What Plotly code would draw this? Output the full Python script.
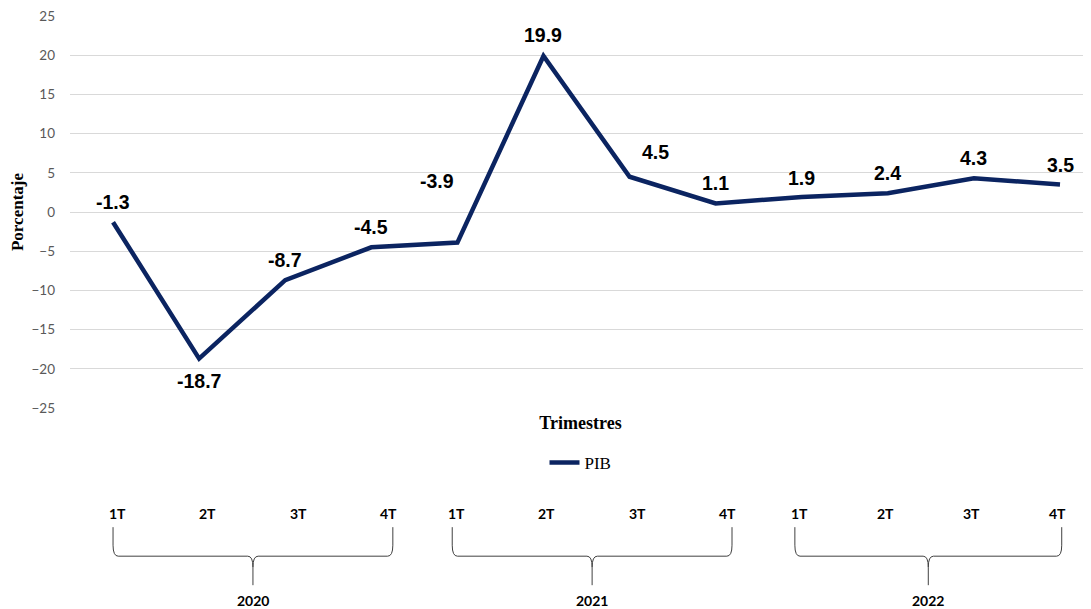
import plotly.graph_objects as go

quarters = ["1T", "2T", "3T", "4T"]
years = ["2020", "2021", "2022"]
categories = [f"{q} {y}" for y in years for q in quarters]
pib = [-1.3, -18.7, -8.7, -4.5, -3.9, 19.9, 4.5, 1.1, 1.9, 2.4, 4.3, 3.5]
y_ticks = [25, 20, 15, 10, 5, 0, -5, -10, -15, -20, -25]

# label offsets (px) relative to each point
label_dx = [0, 0, 0, 0, -20, 0, 26, 0, 0, 0, 0, 0]
label_dy = [20, -22, 20, 20, 62, 21, 25, 20, 19, 20, 20, 20]

# brace spans in x-axis units (category index)
brace_spans = [(0.0, 3.25), (3.94, 7.19), (7.92, 11.02)]

LINE = "#0b2461"
xs = list(range(len(categories)))

fig = go.Figure()
fig.add_trace(go.Scatter(
    x=xs, y=pib, mode="lines", name="PIB",
    line=dict(color=LINE, width=4.5),
))

for i, v in enumerate(pib):
    fig.add_annotation(
        x=xs[i], y=v, text=f"<b>{v}</b>", showarrow=False,
        xshift=label_dx[i], yshift=label_dy[i],
        font=dict(family="Liberation Sans, Arial", size=19.5, color="#000000"),
    )

# Decorations below: quarter labels, braces, years
y_top, y_h, y_tip = -0.304, -0.378, -0.452
y_q, y_year = -0.270, -0.492
shapes = []
for (a, b), yr in zip(brace_spans, years):
    m = (a + b) / 2
    rx, ry = 0.06, 0.028
    path = (
        f"M {a},{y_top} L {a},{y_h + ry} Q {a},{y_h} {a + rx},{y_h} "
        f"L {m - rx},{y_h} Q {m},{y_h} {m},{y_h - ry} L {m},{y_tip} "
        f"M {m},{y_h - ry} Q {m},{y_h} {m + rx},{y_h} "
        f"L {b - rx},{y_h} Q {b},{y_h} {b},{y_h + ry} L {b},{y_top}"
    )
    shapes.append(dict(type="path", path=path, xref="x", yref="paper",
                       line=dict(color="#404040", width=1)))
    pad = 0.05
    for k, q in enumerate(quarters):
        xq = a + pad + k * (b - a - 2 * pad) / 3
        fig.add_annotation(x=xq, y=y_q, xref="x", yref="paper", text=f"<b>{q}</b>",
                           showarrow=False, xanchor="center", yanchor="middle",
                           font=dict(family="Lato, DejaVu Sans", size=14, color="#000000"))
    fig.add_annotation(x=m, y=y_year, xref="x", yref="paper", text=f"<b>{yr}</b>",
                       showarrow=False, xanchor="center", yanchor="middle",
                       font=dict(family="Lato, DejaVu Sans", size=14, color="#000000"))

fig.update_layout(
    width=1083, height=601,
    margin=dict(l=62, r=0, t=8, b=201),
    paper_bgcolor="white", plot_bgcolor="white",
    shapes=shapes,
    showlegend=True,
    legend=dict(orientation="h", x=0.5, xanchor="center", y=-0.14, yanchor="middle",
                font=dict(family="Liberation Serif, Times New Roman", size=17, color="#000000"),
                itemwidth=30),
    xaxis=dict(range=[-0.5, 11.36], showgrid=False, zeroline=False, showticklabels=False,
               ticks="", showline=False,
               title=dict(text="<b>Trimestres</b>", standoff=8,
                          font=dict(family="Liberation Serif, Times New Roman", size=18, color="#000000"))),
    yaxis=dict(range=[-25, 25], tickvals=y_ticks, showgrid=True, gridcolor="#d9d9d9",
               gridwidth=1, zeroline=False, ticks="", showline=False,
               ticklabelstandoff=14, ticklabeloverflow="allow",
               tickfont=dict(family="Lato, DejaVu Sans", size=13.5, color="#595959"),
               title=dict(text="<b>Porcentaje</b>", standoff=6,
                          font=dict(family="Liberation Serif, Times New Roman", size=17, color="#000000"))),
)

fig.write_html("out.html")
